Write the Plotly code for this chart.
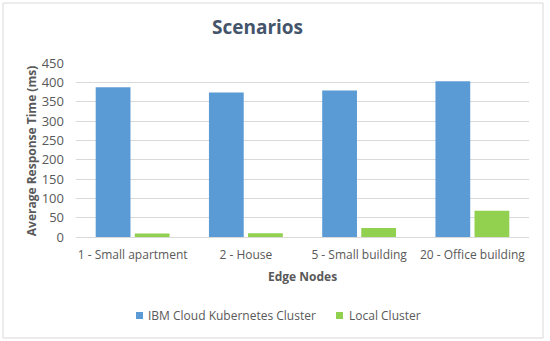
import plotly.graph_objects as go

categories = ["1 - Small apartment", "2 - House", "5 - Small building", "20 - Office building"]
ibm_cloud = [387, 374, 379, 403]
local_cluster = [9, 10, 23, 68]
y_ticks = [0, 50, 100, 150, 200, 250, 300, 350, 400, 450]
series_names = ["IBM Cloud Kubernetes Cluster", "Local Cluster"]
series_colors = ["#5B9BD5", "#92D050"]
x_title = "Edge Nodes"
y_title = "Average Response Time (ms)"

FONT = "Open Sans"
W, H = 550, 341
L, R, T, B = 76, 21, 63, 104
PW, PH = W - L - R, H - T - B


def px(x):
    return (x - L) / PW


def py(y):
    return (H - B - y) / PH


fig = go.Figure()
for name, vals, col in zip(series_names, [ibm_cloud, local_cluster], series_colors):
    fig.add_trace(go.Bar(x=categories, y=vals, name=name,
                         marker=dict(color=col, line=dict(width=0))))

shapes = [dict(type="rect", xref="paper", yref="paper", x0=px(3), x1=px(543), y0=py(338), y1=py(3),
               line=dict(color="#D9D9D9", width=1), layer="below")]
annotations = [
    dict(text="<b>%s</b>" % x_title, xref="paper", yref="paper", x=0.5, y=py(276.7),
         xanchor="center", yanchor="middle", showarrow=False,
         font=dict(family=FONT, size=12, color="#595959")),
    dict(text="<b>%s</b>" % y_title, xref="paper", yref="paper", x=px(31.7), y=py(151.5),
         xanchor="center", yanchor="middle", showarrow=False, textangle=-90,
         font=dict(family=FONT, size=12, color="#595959")),
]
legend_pos = [(136, 146), (336, 347)]
for (sx, tx), name, col in zip(legend_pos, series_names, series_colors):
    shapes.append(dict(type="rect", xref="paper", yref="paper", x0=px(sx), x1=px(sx + 7),
                       y0=py(319), y1=py(312), fillcolor=col, line=dict(width=0)))
    annotations.append(dict(text=name, xref="paper", yref="paper", x=px(tx), y=py(315.5),
                            xanchor="left", yanchor="middle", showarrow=False,
                            font=dict(family=FONT, size=12, color="#595959")))

fig.update_layout(
    width=W, height=H,
    margin=dict(l=L, r=R, t=T, b=B),
    paper_bgcolor="white", plot_bgcolor="white",
    font=dict(family=FONT, color="#595959", size=12),
    title=dict(text="<b>Scenarios</b>", x=257.5 / W, xanchor="center", y=1 - 27 / H, yanchor="middle",
               font=dict(family=FONT, size=19, color="#44546A")),
    barmode="group", bargap=0.31, bargroupgap=0.11,
    showlegend=False,
    shapes=shapes, annotations=annotations,
)
fig.update_xaxes(automargin=False, showgrid=False, showline=True, linecolor="#D9D9D9", linewidth=1,
                 ticks="", tickfont=dict(size=12, color="#595959"), ticklabelstandoff=7)
fig.update_yaxes(automargin=False, range=[0, 450], tickvals=y_ticks, showgrid=True, gridcolor="#D9D9D9",
                 gridwidth=1, zeroline=False, ticks="", tickfont=dict(size=13, color="#595959"),
                 ticklabelstandoff=11)

fig.write_html("out.html", config={"displayModeBar": False},
               post_script="document.body.style.margin='0';document.body.style.overflow='hidden';")
